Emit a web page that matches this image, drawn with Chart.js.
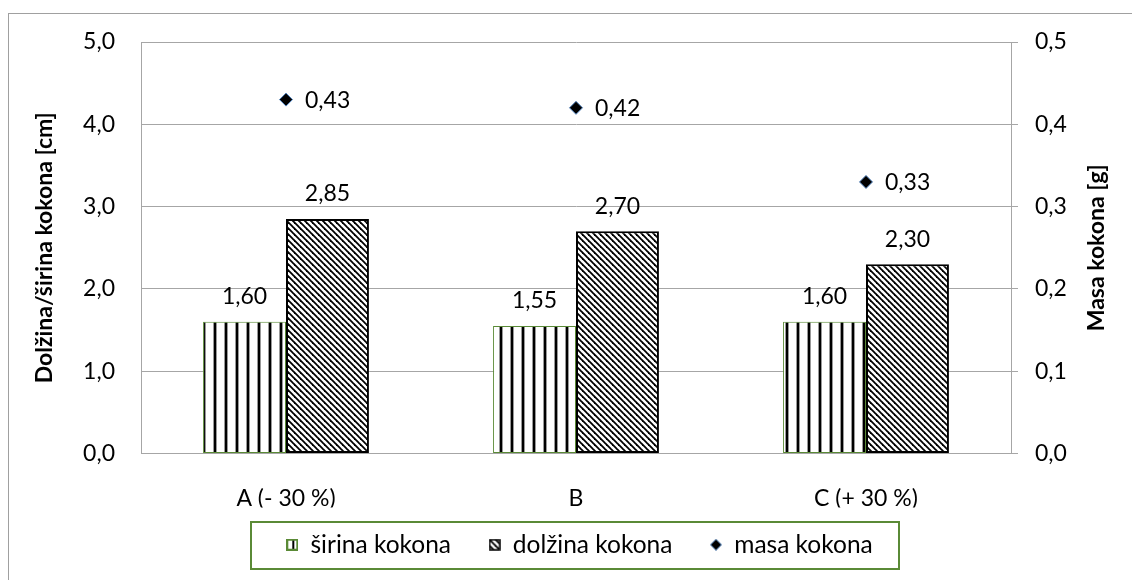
<!DOCTYPE html>
<html>
<head>
<meta charset="utf-8">
<script src="https://cdn.jsdelivr.net/npm/chart.js@4.4.0/dist/chart.umd.min.js"></script>
<style>
  html, body { margin: 0; padding: 0; background: #fff; }
  #wrap { width: 1132px; height: 580px; }
</style>
</head>
<body>
<div id="wrap"><canvas id="myChart" width="1132" height="580"></canvas></div>
<script>
const ctx = document.getElementById('myChart');

let categories = ['A (- 30 %)', 'B', 'C (+ 30 %)'];
let sirina = [1.60, 1.55, 1.60];
let dolzina = [2.85, 2.70, 2.30];
let masa = [0.43, 0.42, 0.33];

const FONT = 'Lato, "Noto Sans", sans-serif';
const FS = 23;
const GRID = '#a6a6a6';
const GREEN = '#5a8a36';

// vertical stripes for the width bars
function stripePattern() {
  const c = document.createElement('canvas');
  c.width = 11; c.height = 4;
  const g = c.getContext('2d');
  g.fillStyle = '#fff'; g.fillRect(0, 0, 11, 4);
  g.fillStyle = '#999'; g.fillRect(4, 0, 1, 4); g.fillRect(7, 0, 1, 4);
  g.fillStyle = '#000'; g.fillRect(5, 0, 2, 4);
  return g.createPattern(c, 'repeat');
}

// diagonal hatching for the length bars
function hatchPattern() {
  const c = document.createElement('canvas');
  c.width = 6; c.height = 6;
  const g = c.getContext('2d');
  g.fillStyle = '#fff'; g.fillRect(0, 0, 6, 6);
  g.strokeStyle = '#000'; g.lineWidth = 1.8;
  for (let k = -6; k <= 6; k += 6) {
    g.beginPath(); g.moveTo(-1, k - 1); g.lineTo(7, k + 7); g.stroke();
  }
  return g.createPattern(c, 'repeat');
}

function legendIcon(kind) {
  const c = document.createElement('canvas');
  const g = c.getContext('2d');
  c.width = 12; c.height = 12;
  if (kind === 'diamond') {
    g.beginPath(); g.moveTo(6, 0.5); g.lineTo(11.5, 6); g.lineTo(6, 11.5); g.lineTo(0.5, 6); g.closePath();
    g.fillStyle = '#000'; g.fill();
    g.strokeStyle = '#4f81bd'; g.lineWidth = 1; g.stroke();
    return c;
  }
  g.fillStyle = '#fff'; g.fillRect(0, 0, 12, 12);
  if (kind === 'stripe') {
    g.fillStyle = '#000'; g.fillRect(6, 1, 2, 10);
    g.strokeStyle = GREEN; g.lineWidth = 2; g.strokeRect(1, 1, 10, 10);
  } else {
    g.fillStyle = hatchPattern(); g.fillRect(1, 1, 10, 10);
    g.strokeStyle = '#000'; g.lineWidth = 1.5; g.strokeRect(1, 1, 10, 10);
  }
  return c;
}
const icons = [legendIcon('stripe'), legendIcon('hatch'), legendIcon('diamond')];

const comma = (v, d) => v.toFixed(d).replace('.', ',');

const decorations = {
  id: 'decorations',
  afterDatasetsDraw(chart) {
    const c = chart.ctx;
    c.save();
    c.font = FS + 'px ' + FONT;
    c.fillStyle = '#000';
    c.textBaseline = 'middle';
    chart.data.datasets.forEach((ds, i) => {
      const meta = chart.getDatasetMeta(i);
      meta.data.forEach((el, j) => {
        if (ds.type === 'line') {
          c.textAlign = 'left';
          c.fillText(comma(ds.data[j], 2), el.x + 19, el.y + 1);
        } else {
          c.textAlign = 'center';
          c.fillText(comma(ds.data[j], 2), el.x, el.y - 25);
        }
      });
    });
    c.restore();
  },
  afterDraw(chart) {
    const c = chart.ctx;
    const area = chart.chartArea;
    c.save();
    // outer frame
    c.strokeStyle = '#a0a0a0';
    c.lineWidth = 1;
    c.strokeRect(8.5, 13.5, 1200, 700);
    // axis titles
    c.font = 'bold ' + FS + 'px ' + FONT;
    c.fillStyle = '#000';
    c.textAlign = 'center';
    c.textBaseline = 'middle';
    const cy = (area.top + area.bottom) / 2;
    [45, 1097].forEach((x, k) => {
      c.save();
      c.translate(x, cy);
      c.rotate(-Math.PI / 2);
      c.fillText(k === 0 ? 'Dolžina/širina kokona [cm]' : 'Masa kokona [g]', 0, 0);
      c.restore();
    });
    // legend frame
    const boxes = chart.legend.legendHitBoxes;
    if (boxes && boxes.length) {
      const l = Math.min(...boxes.map(b => b.left));
      const r = Math.max(...boxes.map(b => b.left + b.width));
      const mid = boxes[0].top + boxes[0].height / 2;
      c.strokeStyle = GREEN;
      c.lineWidth = 2;
      c.strokeRect(Math.round(l - 35), Math.round(mid - 23), Math.round(r - l + 62), 47);
    }
    c.restore();
  }
};

new Chart(ctx, {
  type: 'bar',
  data: {
    labels: categories,
    datasets: [{
      label: 'širina kokona',
      data: sirina,
      backgroundColor: stripePattern(),
      borderColor: GREEN,
      borderWidth: 1,
      borderSkipped: false,
      yAxisID: 'y',
      order: 2
    }, {
      label: 'dolžina kokona',
      data: dolzina,
      backgroundColor: hatchPattern(),
      borderColor: '#000',
      borderWidth: 2,
      borderSkipped: false,
      yAxisID: 'y',
      order: 2
    }, {
      type: 'line',
      label: 'masa kokona',
      data: masa,
      showLine: false,
      pointStyle: 'rectRot',
      pointRadius: 6.5,
      pointBackgroundColor: '#000',
      pointBorderColor: '#4f81bd',
      pointBorderWidth: 1,
      yAxisID: 'y1',
      order: 1
    }]
  },
  options: {
    responsive: false,
    animation: false,
    layout: { padding: { left: 27, right: 0, top: 42, bottom: 13 } },
    datasets: {
      bar: { categoryPercentage: 0.572, barPercentage: 1 }
    },
    plugins: {
      tooltip: { enabled: false },
      legend: {
        position: 'bottom',
        labels: {
          usePointStyle: true,
          pointStyleWidth: 12,
          boxHeight: 12,
          padding: 25,
          color: '#000',
          font: { family: FONT, size: 24.5 },
          sort: (a, b) => a.datasetIndex - b.datasetIndex,
          generateLabels(chart) {
            const items = Chart.defaults.plugins.legend.labels.generateLabels(chart);
            items.forEach(it => {
              it.pointStyle = icons[it.datasetIndex];
              it.lineWidth = 0;
              // a little extra room after the first two entries
              if (it.datasetIndex < 2) it.text += '  ';
            });
            return items;
          }
        }
      }
    },
    scales: {
      x: {
        grid: { display: false },
        border: { color: GRID },
        ticks: { color: '#000', padding: 23, font: { family: FONT, size: FS } },
        afterFit(scale) { scale.height = 54; }
      },
      y: {
        position: 'left',
        min: 0, max: 5,
        ticks: {
          stepSize: 1, padding: 26, color: '#000',
          font: { family: FONT, size: FS },
          callback: v => comma(v, 1)
        },
        grid: { color: GRID, drawTicks: false },
        border: { color: GRID },
        afterFit(scale) { scale.width = 114; }
      },
      y1: {
        position: 'right',
        min: 0, max: 0.5,
        ticks: {
          stepSize: 0.1, padding: 17, color: '#000',
          font: { family: FONT, size: FS },
          callback: v => comma(v, 1)
        },
        grid: { drawOnChartArea: false, color: GRID, tickLength: 7 },
        border: { color: GRID },
        afterFit(scale) { scale.width = 121; }
      }
    }
  },
  plugins: [decorations]
});
</script>
</body>
</html>
